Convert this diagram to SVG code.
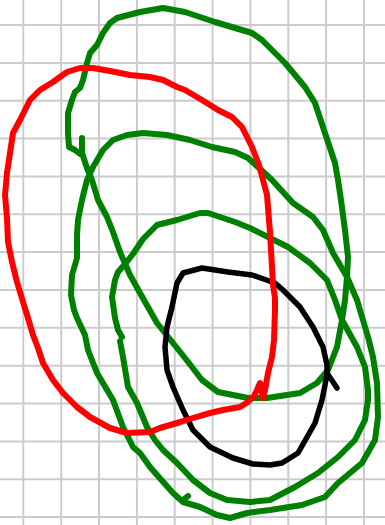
<svg xmlns="http://www.w3.org/2000/svg" width="385" height="525" viewBox="0 0 385 525">
<style>
.grid line{stroke:#cccccc;stroke-width:2}
.s{fill:none;stroke-linecap:round;stroke-linejoin:round}
.g{stroke:#008000;stroke-width:6}
.r{stroke:#ff0000;stroke-width:6}
.k{stroke:#000000;stroke-width:5.5}
</style>
<rect width="385" height="525" fill="#ffffff"/>
<g class="grid">
<line x1="23.3" y1="0" x2="23.3" y2="525"/>
<line x1="61.2" y1="0" x2="61.2" y2="525"/>
<line x1="99" y1="0" x2="99" y2="525"/>
<line x1="136.9" y1="0" x2="136.9" y2="525"/>
<line x1="174.7" y1="0" x2="174.7" y2="525"/>
<line x1="212.6" y1="0" x2="212.6" y2="525"/>
<line x1="250.4" y1="0" x2="250.4" y2="525"/>
<line x1="288.3" y1="0" x2="288.3" y2="525"/>
<line x1="326.1" y1="0" x2="326.1" y2="525"/>
<line x1="364" y1="0" x2="364" y2="525"/>
<line x1="0" y1="25" x2="385" y2="25"/>
<line x1="0" y1="62.9" x2="385" y2="62.9"/>
<line x1="0" y1="100.7" x2="385" y2="100.7"/>
<line x1="0" y1="138.6" x2="385" y2="138.6"/>
<line x1="0" y1="176.4" x2="385" y2="176.4"/>
<line x1="0" y1="214.3" x2="385" y2="214.3"/>
<line x1="0" y1="252.1" x2="385" y2="252.1"/>
<line x1="0" y1="290" x2="385" y2="290"/>
<line x1="0" y1="327.8" x2="385" y2="327.8"/>
<line x1="0" y1="365.7" x2="385" y2="365.7"/>
<line x1="0" y1="403.5" x2="385" y2="403.5"/>
<line x1="0" y1="441.4" x2="385" y2="441.4"/>
<line x1="0" y1="479.2" x2="385" y2="479.2"/>
<line x1="0" y1="517" x2="385" y2="517"/>
</g>
<g id="green-big">
<path class="s g" d="M82,138 L82,153 L87,168 L92,180 L98,200 L107,217 L113,232 L120,252 L130,275 L140,293 L157,323 L173,343 L185,358 L202,380 L218,392 L248,398 L267,398 L300,393 L317,383 L328,370 L337,347 L342,320 L345,300 L347,277 L348,257 L345,230 L341,200 L338,180 L335,163 L325,133 L315,103 L305,87 L285,63 L262,40 L252,33 L215,22 L185,12 L163,8 L140,12 L117,18 L110,23 L103,33 L97,45 L90,53 L87,63 L83,80 L80,88 L75,92 L72,100 L68,113 L68,133 L69,147 L75,150 L80,154"/>
</g>
<g id="green-outer">
<path class="s g" d="M190,140 L167,135 L143,133 L127,135 L113,140 L103,150 L93,167 L87,180 L82,200 L78,220 L77,235 L77,258 L72,275 L71,295 L74,310 L77,318 L85,335 L88,350 L97,373 L113,400 L123,427 L133,447 L140,453 L150,467 L157,475 L173,493 L183,502 L200,507 L217,515 L230,518 L247,513 L270,510 L302,505 L325,497 L338,483 L362,463 L375,440 L378,417 L377,383 L373,357 L368,337 L363,320 L357,300 L347,277 L333,253 L323,230 L313,217 L293,203 L272,180 L258,167 L248,158 L235,152 L212,147 Z"/>
<path class="s g" d="M183,500 L188,496"/>
</g>
<g id="green-third">
<path class="s g" d="M122,337 L118,330 L115,318 L112,297 L115,280 L118,272 L125,264 L133,254 L143,239 L157,225 L177,220 L200,213 L208,213 L235,222 L250,228 L268,237 L288,247 L310,263 L327,280 L335,300 L342,320 L357,347 L365,367 L368,390 L368,400 L365,420 L355,440 L338,457 L318,473 L295,487 L270,500 L250,502 L227,500 L210,493 L193,480 L177,463 L163,450 L155,440 L147,427 L137,403 L128,387 L123,357 L120,341"/>
</g>
<g id="black-loop">
<path class="s k" d="M337,388 L327,373 L327,365 L323,347 L313,327 L300,307 L283,290 L275,283 L252,275 L228,272 L202,268 L183,273 L177,283 L172,307 L167,327 L165,347 L167,370 L173,387 L183,410 L193,430 L210,447 L233,458 L253,464 L270,465 L282,463 L298,453 L315,423 L322,400 L325,385 L327,373"/>
</g>
<g id="red-loop">
<path class="s r" d="M263,398 L265,390 L268,373 L272,357 L274,340 L275,310 L275,298 L273,285 L270,232 L267,195 L263,180 L259,165 L252,147 L242,127 L232,117 L218,110 L202,100 L185,90 L177,87 L163,80 L150,77 L130,75 L110,71 L93,68 L80,68 L67,72 L53,82 L40,90 L30,100 L20,120 L13,133 L10,153 L7,173 L5,195 L7,218 L8,242 L12,262 L17,282 L23,302 L28,318 L33,335 L38,348 L43,363 L53,380 L63,393 L77,407 L90,417 L110,428 L127,433 L150,432 L160,428 L177,423 L193,418 L210,413 L223,410 L240,407 L248,402 L254,396 L257,390 L260,383 L263,398"/>
</g>
</svg>
